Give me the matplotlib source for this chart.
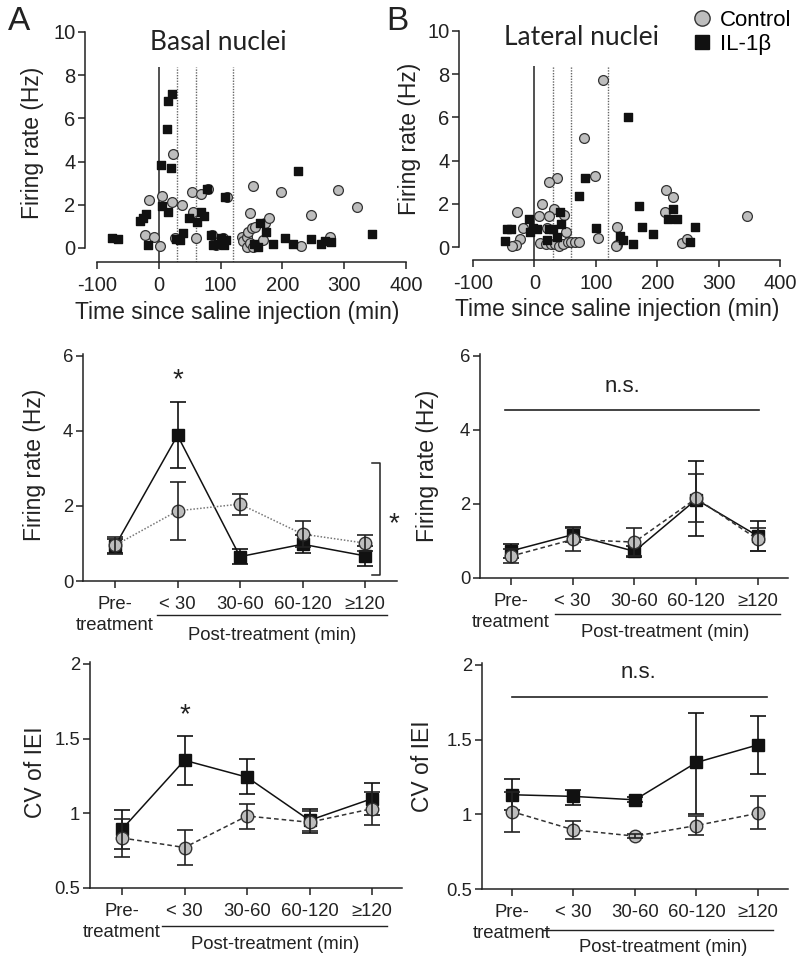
import matplotlib
matplotlib.use('Agg')
import matplotlib.pyplot as plt
import numpy as np
from matplotlib.lines import Line2D
from matplotlib.transforms import blended_transform_factory

plt.rcParams['font.family'] = ['Liberation Sans', 'DejaVu Sans']
plt.rcParams['axes.unicode_minus'] = False

# ---------------- data ----------------
# Panel A scatter (Basal nuclei): time (min), firing rate (Hz)
basal_ctrl_t = [-23, -16, -8, 2, 6, 22, 23, 26, 38, 53, 56, 60, 69, 79, 86, 92, 104, 110, 134,
                137, 142, 142, 144, 148, 148, 151, 152, 153, 155, 169, 172, 179, 197, 230, 247, 277, 290, 320]
basal_ctrl_fr = [0.6, 2.24, 0.52, 0.09, 2.42, 2.13, 4.37, 0.45, 1.98, 2.6, 1.65, 0.48, 2.48, 2.72, 0.6, 0.14, 0.48, 2.38, 0.52,
                 0.3, 0.53, 0.06, 0.74, 1.6, 0.22, 0.94, 2.87, 0.06, 0.99, 0.37, 1.17, 1.39, 2.59, 0.11, 1.54, 0.52, 2.68, 1.88]
basal_il_t = [-76, -66, -30, -25, -21, -18, 3, 5, 13, 15, 15, 20, 21, 28, 34, 39, 49, 62, 68, 73, 78, 85, 88, 95,
              100, 106, 107, 108, 154, 161, 163, 173, 185, 205, 217, 226, 247, 262, 269, 278, 345]
basal_il_fr = [0.45, 0.4, 1.23, 1.4, 1.57, 0.15, 3.84, 1.96, 5.5, 6.79, 1.68, 3.7, 7.15, 0.4, 0.35, 0.68, 1.37, 1.22, 1.66, 1.49,
               2.72, 0.6, 0.12, 0.2, 0.45, 0.15, 2.35, 0.35, 0.18, 0.06, 1.17, 0.76, 0.17, 0.48, 0.19, 3.58, 0.4, 0.17, 0.31, 0.26, 0.66]

# Panel B scatter (Lateral nuclei)
lat_ctrl_t = [112, 81, 99, 37, 24, 13, -28, 32, 24, 7, 49, -18, 20, 51, -23, -30, -37, 9, 19, 27, 33, 40, 47, 54, 60,
              66, 72, 104, 135, 135, 133, 214, 225, 212, 347, 240, 248]
lat_ctrl_fr = [7.72, 5.06, 3.28, 3.19, 3.03, 1.98, 1.63, 1.74, 1.45, 1.43, 1.48, 0.89, 0.89, 0.7, 0.36, 0.08, 0.05, 0.2, 0.12,
               0.12, 0.12, 0.06, 0.15, 0.24, 0.24, 0.24, 0.24, 0.42, 0.91, 0.09, 0.06, 2.63, 2.33, 1.62, 1.42, 0.2, 0.38]
lat_il_t = [-48, -44, -38, -8, -7, -2, 5, 20, 24, 31, 37, 42, 44, 72, 83, 100, 139, 145, 153, 160, 171, 175, 193,
            218, 225, 232, 254, 262]
lat_il_fr = [0.3, 0.84, 0.84, 1.3, 0.7, 0.9, 0.85, 0.32, 0.84, 0.82, 0.48, 1.63, 1.06, 2.35, 3.2, 0.9, 0.52, 0.33, 6.0,
             0.12, 1.9, 0.94, 0.59, 1.28, 1.78, 1.3, 0.25, 0.91]

epoch_bounds = [0, 30, 60, 120]

categories = ['Pre-\ntreatment', '< 30', '30-60', '60-120', '\u2265120']

# Firing rate summary, basal
basal_fr_il = [0.93, 3.88, 0.65, 0.98, 0.67]
basal_fr_il_lo = [0.75, 3.0, 0.45, 0.74, 0.40]
basal_fr_il_hi = [1.12, 4.76, 0.84, 1.22, 0.94]
basal_fr_ctrl = [0.95, 1.87, 2.05, 1.25, 1.01]
basal_fr_ctrl_lo = [0.73, 1.09, 1.77, 0.90, 0.80]
basal_fr_ctrl_hi = [1.18, 2.63, 2.32, 1.61, 1.22]

# Firing rate summary, lateral
lat_fr_il = [0.73, 1.17, 0.72, 2.12, 1.13]
lat_fr_il_lo = [0.55, 0.97, 0.57, 1.14, 0.73]
lat_fr_il_hi = [0.93, 1.37, 0.87, 3.17, 1.53]
lat_fr_ctrl = [0.59, 1.04, 0.97, 2.15, 1.04]
lat_fr_ctrl_lo = [0.41, 0.72, 0.60, 1.52, 0.74]
lat_fr_ctrl_hi = [0.77, 1.36, 1.34, 2.81, 1.36]

# CV of IEI, basal
basal_cv_il = [0.893, 1.355, 1.242, 0.953, 1.098]
basal_cv_il_lo = [0.76, 1.19, 1.127, 0.869, 0.99]
basal_cv_il_hi = [1.025, 1.52, 1.362, 1.029, 1.202]
basal_cv_ctrl = [0.835, 0.771, 0.982, 0.94, 1.031]
basal_cv_ctrl_lo = [0.709, 0.651, 0.898, 0.882, 0.925]
basal_cv_ctrl_hi = [0.96, 0.887, 1.064, 1.013, 1.14]

# CV of IEI, lateral
lat_cv_il = [1.131, 1.12, 1.097, 1.347, 1.465]
lat_cv_il_lo = [1.03, 1.06, 1.08, 1.0, 1.27]
lat_cv_il_hi = [1.236, 1.164, 1.115, 1.68, 1.66]
lat_cv_ctrl = [1.018, 0.896, 0.854, 0.925, 1.007]
lat_cv_ctrl_lo = [0.88, 0.835, 0.84, 0.86, 0.90]
lat_cv_ctrl_hi = [1.15, 0.958, 0.868, 0.99, 1.12]

# ---------------- figure ----------------
W, H = 800, 960
fig = plt.figure(figsize=(W / 100, H / 100), dpi=100)

CIRC_FC = '#bdbdbd'
CIRC_EC = '#333333'


def add_ax(l, t, r, b):
    return fig.add_axes([l / W, 1 - b / H, (r - l) / W, (b - t) / H])


def style(ax, fs):
    for s in ('top', 'right'):
        ax.spines[s].set_visible(False)
    for s in ('left', 'bottom'):
        ax.spines[s].set_linewidth(1.1)
        ax.spines[s].set_color('#222222')
    ax.tick_params(direction='out', length=5, width=1.1, labelsize=fs, colors='#222222')


def scatter_panel(ax, ct, cf, it, iff, xlo, ylo, title, tpos, lab_xy, xlab_xy):
    ax.set_xlim(xlo, 400)
    ax.set_ylim(ylo, 10.09)
    style(ax, 14.5)
    ax.spines['left'].set_bounds(0, 10)
    ax.spines['bottom'].set_bounds(-100, 400)
    ax.set_xticks([-100, 0, 100, 200, 300, 400])
    ax.set_yticks([0, 2, 4, 6, 8, 10])
    ax.tick_params(axis='x', pad=5)
    ax.tick_params(axis='y', pad=2)
    for i, b in enumerate(epoch_bounds):
        if i == 0:
            ax.vlines(b, ylo, 8.4, color='#222222', lw=1.1, zorder=1)
        else:
            ax.vlines(b, ylo, 8.4, color='#666666', lw=1.0, ls=(0, (1, 1)), zorder=1)
    ax.scatter(ct, cf, s=50, marker='o', facecolor=CIRC_FC, edgecolor=CIRC_EC, linewidth=0.9, zorder=3)
    ax.scatter(it, iff, s=26, marker='s', color='#111111', zorder=4)
    ax.set_ylabel('Firing rate (Hz)', fontsize=16.5, va='center', color='#222222')
    ax.yaxis.set_label_coords(*lab_xy)
    ax.set_xlabel('Time since saline injection (min)', fontsize=16.5, va='center', color='#222222')
    ax.xaxis.set_label_coords(*xlab_xy)
    ax.text(tpos[0], tpos[1], title, transform=ax.transAxes, fontsize=19, family=['Lato', 'DejaVu Sans'],
            ha='center', va='center', color='#222222')


axA = add_ax(85, 30, 406, 262)
scatter_panel(axA, basal_ctrl_t, basal_ctrl_fr, basal_il_t, basal_il_fr, -119.4, -0.65,
              'Basal nuclei', (0.414, 0.944), (-0.162, 0.513), (0.474, -0.216))
axB = add_ax(459, 29, 780, 260)
scatter_panel(axB, lat_ctrl_t, lat_ctrl_fr, lat_il_t, lat_il_fr, -122.8, -0.6,
              'Lateral nuclei', (0.383, 0.965), (-0.153, 0.524), (0.492, -0.216))


def summary_panel(ax, il, il_lo, il_hi, c, c_lo, c_hi, ylim, yticks, yticklabels, ylabel, xlim,
                  ctrl_ls, ctrl_color, lab_xy, post_line, post_text):
    x = np.arange(len(categories))
    ax.set_xlim(*xlim)
    ax.set_ylim(*ylim)
    style(ax, 13.3)
    ax.set_xticks(x)
    ax.set_xticklabels(categories, linespacing=1.25)
    ax.set_yticks(yticks)
    ax.set_yticklabels(yticklabels)
    ax.tick_params(axis='x', pad=6)
    ax.tick_params(axis='y', pad=2)
    il = np.array(il); c = np.array(c)
    ax.errorbar(x, il, yerr=[il - np.array(il_lo), np.array(il_hi) - il], fmt='s', ls='-',
                color='#111111', lw=1.1, ms=8, capsize=6, capthick=1.2, elinewidth=1.2, zorder=3)
    ax.plot(x, c, ls=ctrl_ls, color=ctrl_color, lw=1.1, zorder=4)
    ax.plot(x, c, 'o', ms=9, mfc=CIRC_FC, mec=CIRC_EC, mew=1.0, zorder=5)
    ax.errorbar(x, c, yerr=[c - np.array(c_lo), np.array(c_hi) - c], fmt='none',
                ecolor='#222222', capsize=6, capthick=1.2, elinewidth=1.2, zorder=6)
    ax.set_ylabel(ylabel, fontsize=16.5, va='center', color='#222222')
    ax.yaxis.set_label_coords(*lab_xy)
    tr = blended_transform_factory(ax.transData, ax.transAxes)
    ax.plot([post_line[0], post_line[1]], [post_line[2]] * 2, color='#222222', lw=1.0,
            transform=tr, clip_on=False)
    ax.text(post_text[0], post_text[1], 'Post-treatment (min)', transform=tr, fontsize=13.3,
            ha='center', va='center', color='#222222')


axC = add_ax(83, 354, 397, 581)
summary_panel(axC, basal_fr_il, basal_fr_il_lo, basal_fr_il_hi, basal_fr_ctrl, basal_fr_ctrl_lo, basal_fr_ctrl_hi,
              (0, 6.05), [0, 2, 4, 6], ['0', '2', '4', '6'], 'Firing rate (Hz)', (-0.512, 4.512),
              (0, (1, 1.2)), '#777777', (-0.153, 0.511), (0.67, 4.35, -0.15), (2.51, -0.242))
axD = add_ax(480, 354, 788, 578)
summary_panel(axD, lat_fr_il, lat_fr_il_lo, lat_fr_il_hi, lat_fr_ctrl, lat_fr_ctrl_lo, lat_fr_ctrl_hi,
              (0, 6.05), [0, 2, 4, 6], ['0', '2', '4', '6'], 'Firing rate (Hz)', (-0.502, 4.486),
              (0, (3, 2)), '#333333', (-0.172, 0.5), (0.71, 4.36, -0.162), (2.49, -0.243))
axE = add_ax(90, 662, 402, 888)
summary_panel(axE, basal_cv_il, basal_cv_il_lo, basal_cv_il_hi, basal_cv_ctrl, basal_cv_ctrl_lo, basal_cv_ctrl_hi,
              (0.5, 2.013), [0.5, 1, 1.5, 2], ['0.5', '1', '1.5', '2'], 'CV of IEI', (-0.512, 4.48),
              (0, (3, 2)), '#333333', (-0.176, 0.513), (0.64, 4.24, -0.17), (2.45, -0.25))
axF = add_ax(482, 663, 788, 889)
summary_panel(axF, lat_cv_il, lat_cv_il_lo, lat_cv_il_hi, lat_cv_ctrl, lat_cv_ctrl_lo, lat_cv_ctrl_hi,
              (0.5, 2.013), [0.5, 1, 1.5, 2], ['0.5', '1', '1.5', '2'], 'CV of IEI', (-0.488, 4.49),
              (0, (3, 2)), '#333333', (-0.196, 0.545), (0.5, 4.24, -0.18), (2.46, -0.26))

# significance marks
axC.text(1, 5.36, '*', fontsize=20, ha='center', va='center', color='#222222')
axC.plot([4.11, 4.24, 4.24, 4.11], [3.15, 3.15, 0.16, 0.16], color='#222222', lw=1.1, clip_on=False)
axC.text(4.47, 1.52, '*', fontsize=20, ha='center', va='center', color='#222222', clip_on=False)
axE.text(1, 1.66, '*', fontsize=20, ha='center', va='center', color='#222222')
axD.plot([-0.1, 4.02], [4.54, 4.54], color='#222222', lw=1.2)
axD.text(1.81, 5.16, 'n.s.', fontsize=16, ha='center', va='center', color='#222222')
axF.plot([0.0, 4.15], [1.788, 1.788], color='#222222', lw=1.2)
axF.text(2.05, 1.95, 'n.s.', fontsize=16, ha='center', va='center', color='#222222')

# panel letters
fig.text(19 / W, 1 - 22 / H, 'A', fontsize=24, ha='center', va='center', color='#222222')
fig.text(397 / W, 1 - 22 / H, 'B', fontsize=24, ha='center', va='center', color='#222222')

# legend
handles = [Line2D([], [], ls='none', marker='o', ms=11, mfc=CIRC_FC, mec=CIRC_EC, mew=1.0),
           Line2D([], [], ls='none', marker='s', ms=10, color='#111111')]
fig.legend(handles, ['Control', 'IL-1\u03b2'], loc='upper left', bbox_to_anchor=(680 / W, 1 - 1 / H),
           frameon=False, fontsize=16, handletextpad=0.2, labelspacing=0.15, borderaxespad=0,
           handlelength=1.2)

fig.savefig('out.png', dpi=100)
